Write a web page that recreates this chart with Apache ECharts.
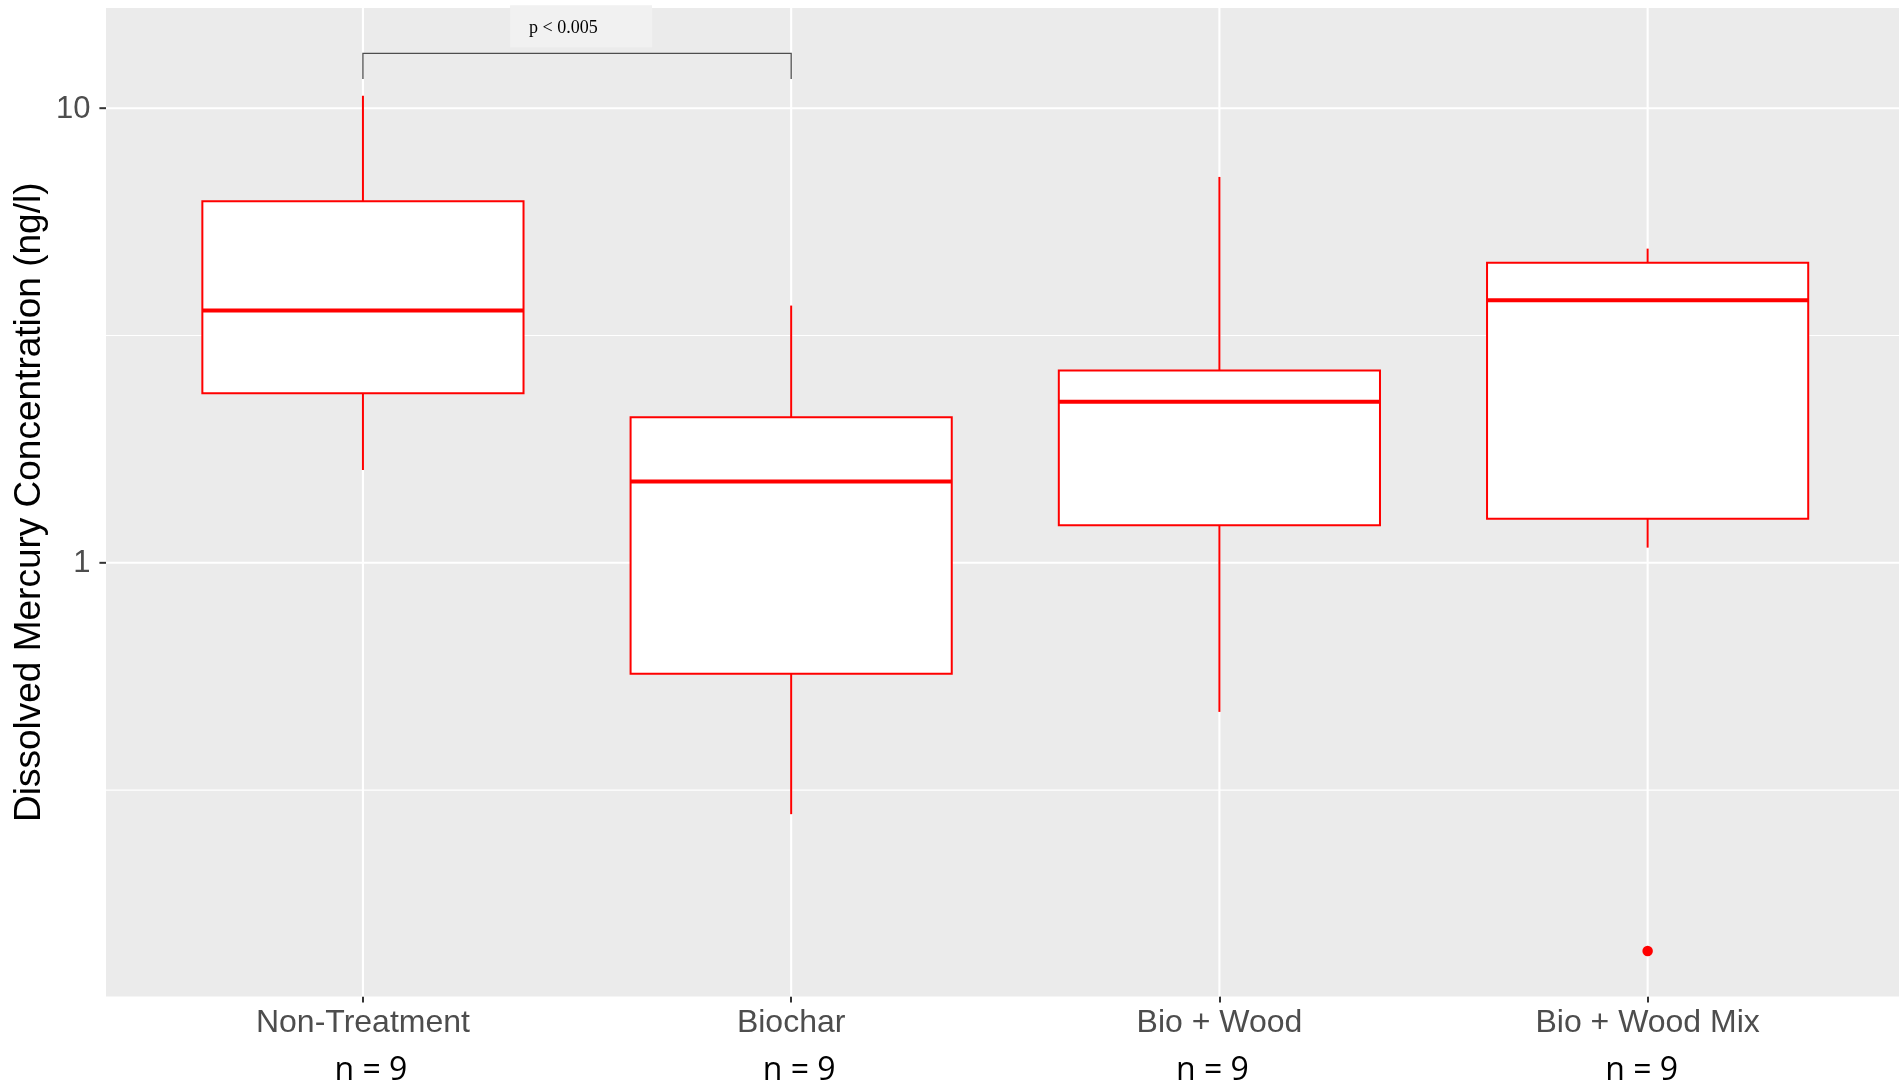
<!DOCTYPE html>
<html>
<head>
<meta charset="utf-8">
<script src="https://cdn.jsdelivr.net/npm/echarts@6/dist/echarts.min.js"></script>
<style>
  html, body { margin: 0; padding: 0; background: #ffffff; }
  #chart { width: 1899px; height: 1087px; }
</style>
</head>
<body>
<div id="chart"></div>
<script>
// Dissolved mercury by treatment: five-number summaries (ng/l)
const categories   = ['Non-Treatment', 'Biochar', 'Bio + Wood', 'Bio + Wood Mix'];
const sampleCounts = [9, 9, 9, 9];
const lowerWhisker = [1.60, 0.280, 0.470, 1.08];
const quartile1    = [2.36, 0.570, 1.21, 1.25];
const medians      = [3.59, 1.51, 2.26, 3.78];
const quartile3    = [6.24, 2.09, 2.65, 4.57];
const upperWhisker = [10.65, 3.68, 7.06, 4.91];

// points beyond the whiskers
const outlierGroups = [4];
const outlierValues = [0.140];

// log-scale ticks and the minor grid between them
const yTickValues  = [1, 10];
const yTickLabels  = ['1', '10'];
const yMinorValues = [0.3162, 3.162];

// pairwise test shown above the boxes
const comparisonFrom  = 1;
const comparisonTo    = 2;
const comparisonLabel = 'p < 0.005';

// ---- styling ----
const RED = '#FF0000';
const BOX_WIDTH = 0.75;
const BRACKET_TOP = 13.2;
const BRACKET_FOOT = 11.6;
const SANS = '"Liberation Sans", Arial, sans-serif';
const SERIF = '"Liberation Serif", "Times New Roman", serif';
const COUNT_FONT = '"Open Sans", "Liberation Sans", sans-serif';
// horizontal nudge (px) of each "n = ..." caption under its category
const COUNT_NUDGE = [8, 8, -7, -6];

const boxData = categories.map((c, i) =>
  [i + 1, lowerWhisker[i], quartile1[i], medians[i], quartile3[i], upperWhisker[i]]);
const outlierData = outlierGroups.map((g, i) => [g, outlierValues[i]]);

function renderBox(params, api) {
  const x = api.value(0);
  const yOf = v => api.coord([x, v])[1];
  const left = api.coord([x - BOX_WIDTH / 2, 1])[0];
  const right = api.coord([x + BOX_WIDTH / 2, 1])[0];
  const cx = api.coord([x, 1])[0];
  const yLo = yOf(api.value(1)), yQ1 = yOf(api.value(2)), yMed = yOf(api.value(3));
  const yQ3 = yOf(api.value(4)), yHi = yOf(api.value(5));
  const line = { stroke: RED, lineWidth: 2 };
  return {
    type: 'group',
    children: [
      { type: 'line', shape: { x1: cx, y1: yHi, x2: cx, y2: yQ3 }, style: line },
      { type: 'line', shape: { x1: cx, y1: yQ1, x2: cx, y2: yLo }, style: line },
      { type: 'rect', shape: { x: left, y: yQ3, width: right - left, height: yQ1 - yQ3 },
        style: { fill: '#FFFFFF', stroke: RED, lineWidth: 2 } },
      { type: 'line', shape: { x1: left, y1: yMed, x2: right, y2: yMed },
        style: { stroke: RED, lineWidth: 4 } }
    ]
  };
}

// horizontal grid, ticks and labels of the log axis
function renderYTick(params, api) {
  const cs = params.coordSys;
  const y = api.coord([1, api.value(1)])[1];
  return {
    type: 'group',
    children: [
      { type: 'line', shape: { x1: cs.x, y1: y, x2: cs.x + cs.width, y2: y },
        style: { stroke: '#FFFFFF', lineWidth: 2.1 } },
      { type: 'line', shape: { x1: cs.x - 6.6, y1: y, x2: cs.x, y2: y },
        style: { stroke: '#333333', lineWidth: 2 } },
      { type: 'text', style: { text: yTickLabels[params.dataIndex], x: cs.x - 15.5, y: y + 1,
        align: 'right', verticalAlign: 'middle', fill: '#4D4D4D', font: '31px ' + SANS } }
    ]
  };
}

function renderYMinor(params, api) {
  const cs = params.coordSys;
  const y = api.coord([1, api.value(1)])[1];
  return { type: 'line', shape: { x1: cs.x, y1: y, x2: cs.x + cs.width, y2: y },
    style: { stroke: '#FFFFFF', lineWidth: 1.1 } };
}

function renderXGrid(params, api) {
  const cs = params.coordSys;
  const x = api.coord([api.value(0), 1])[0];
  return { type: 'line', shape: { x1: x, y1: cs.y, x2: x, y2: cs.y + cs.height },
    style: { stroke: '#FFFFFF', lineWidth: 2.1 } };
}

function renderBracket(params, api) {
  const p1 = api.coord([api.value(0), BRACKET_TOP]);
  const p2 = api.coord([api.value(1), BRACKET_TOP]);
  const yFoot = api.coord([api.value(0), BRACKET_FOOT])[1];
  const mid = (p1[0] + p2[0]) / 2 + 4;
  const boxW = 142, boxH = 42;
  const boxY = p1[1] - 6 - boxH;
  const stroke = { stroke: '#4D4D4D', lineWidth: 1.3 };
  return {
    type: 'group',
    children: [
      { type: 'polyline', shape: { points: [[p1[0], yFoot], [p1[0], p1[1]], [p2[0], p2[1]], [p2[0], yFoot]] },
        style: Object.assign({ fill: null }, stroke) },
      { type: 'rect', shape: { x: mid - boxW / 2, y: boxY, width: boxW, height: boxH },
        style: { fill: '#F1F1F1' } },
      { type: 'text', style: { text: comparisonLabel, x: mid - boxW / 2 + 19, y: boxY + 23,
        align: 'left', verticalAlign: 'middle', fill: '#000000', font: '18px ' + SERIF } }
    ]
  };
}

// rich-text styles for the category captions
const labelRich = {
  cat: { fontSize: 32, lineHeight: 40, color: '#4D4D4D', fontFamily: SANS }
};
COUNT_NUDGE.forEach((dx, i) => {
  labelRich['n' + i] = {
    fontSize: 32, lineHeight: 56, color: '#000000', fontFamily: COUNT_FONT,
    padding: dx >= 0 ? [0, 0, 0, 2 * dx] : [0, -2 * dx, 0, 0]
  };
});

const chart = echarts.init(document.getElementById('chart'), null, { renderer: 'canvas' });

chart.setOption({
  backgroundColor: '#FFFFFF',
  animation: false,
  grid: {
    left: 106, top: 8, right: 0, bottom: 88.5,
    show: true, backgroundColor: '#EBEBEB', borderWidth: 0
  },
  xAxis: {
    type: 'value',
    min: 0.4,
    max: 4.587,
    axisLine: { show: false },
    splitLine: { show: false },
    axisTick: {
      show: true, length: 6, customValues: [1, 2, 3, 4],
      lineStyle: { color: '#333333', width: 2 }
    },
    axisLabel: {
      show: true,
      customValues: [1, 2, 3, 4],
      margin: 6.5,
      formatter: function (value) {
        const i = Math.round(value) - 1;
        return '{cat|' + categories[i] + '}\n{n' + i + '|n = ' + sampleCounts[i] + '}';
      },
      rich: labelRich
    }
  },
  yAxis: {
    type: 'log',
    logBase: 10,
    min: 0.1112,
    max: 16.61,
    axisLine: { show: false },
    axisTick: { show: false },
    axisLabel: { show: false },
    splitLine: { show: false },
    name: 'Dissolved Mercury Concentration (ng/l)',
    nameLocation: 'middle',
    nameGap: 58,
    nameTextStyle: { fontSize: 37, color: '#000000', fontFamily: SANS }
  },
  series: [
    {
      type: 'custom', name: 'x grid', silent: true, z: 1,
      data: categories.map((c, i) => [i + 1, 1]),
      encode: { x: 0, y: 1 },
      renderItem: renderXGrid
    },
    {
      type: 'custom', name: 'y minor grid', silent: true, z: 1,
      data: yMinorValues.map(v => [1, v]),
      encode: { x: 0, y: 1 },
      renderItem: renderYMinor
    },
    {
      type: 'custom', name: 'y ticks', silent: true, z: 1,
      data: yTickValues.map(v => [1, v]),
      encode: { x: 0, y: 1 },
      renderItem: renderYTick
    },
    {
      type: 'custom', name: 'Dissolved Hg', z: 3,
      data: boxData,
      encode: { x: 0, y: [1, 2, 3, 4, 5] },
      renderItem: renderBox
    },
    {
      type: 'scatter', name: 'outliers', z: 4,
      data: outlierData,
      symbol: 'circle',
      symbolSize: 10.5,
      itemStyle: { color: RED, opacity: 1 }
    },
    {
      type: 'custom', name: 'comparison', silent: true, z: 4,
      data: [[comparisonFrom, comparisonTo]],
      encode: { x: [0, 1] },
      renderItem: renderBracket
    }
  ]
});
</script>
</body>
</html>
